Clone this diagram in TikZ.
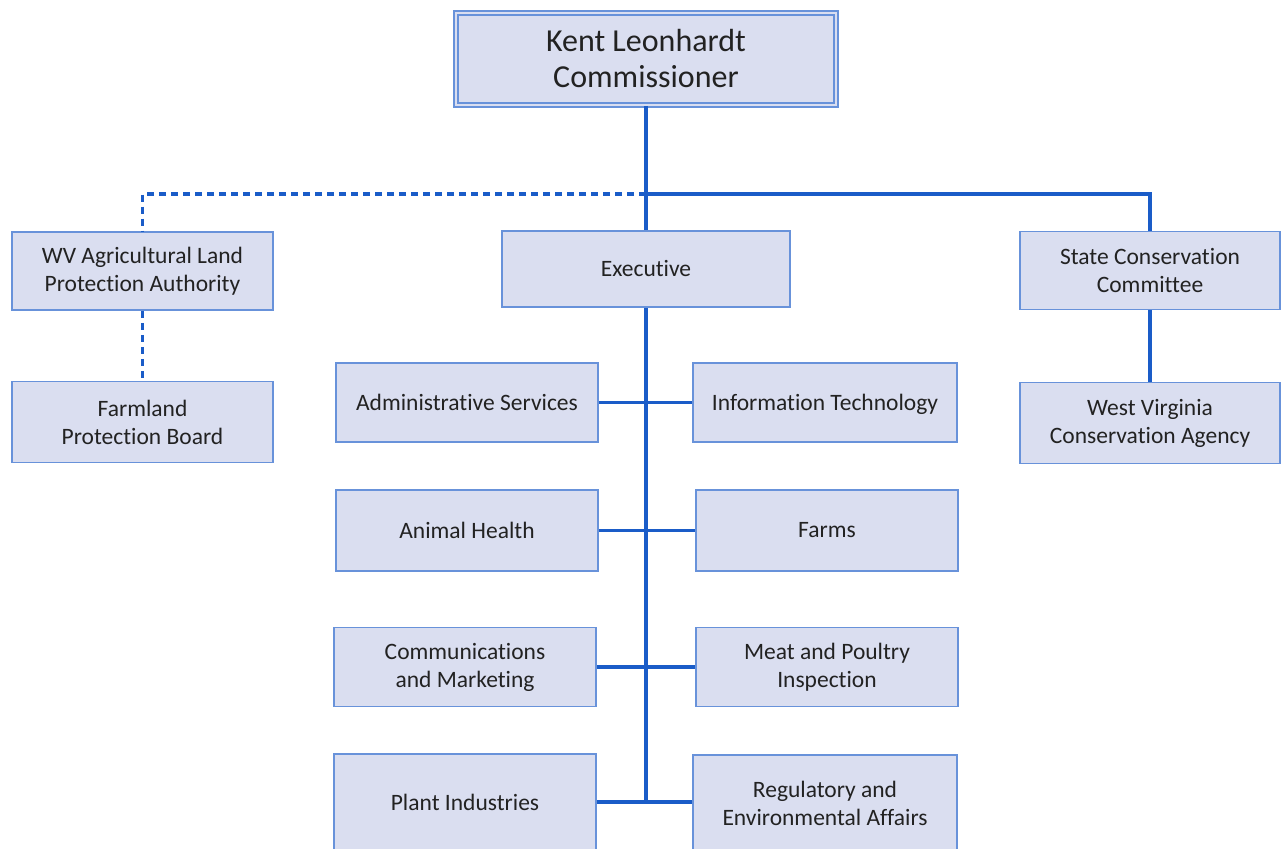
\documentclass[tikz,border=0pt]{standalone}
\usepackage{fontspec}
\setmainfont{Carlito}[Ligatures=NoCommon]
\usepackage{xcolor}
\usetikzlibrary{shadows}
\usetikzlibrary{calc}

\definecolor{boxfill}{RGB}{218,222,240}
\definecolor{boxline}{RGB}{104,146,218}
\definecolor{linkblue}{RGB}{26,92,200}
\definecolor{txt}{RGB}{34,34,34}

\begin{document}
\begin{tikzpicture}[x=1pt,y=-1pt,
    unit/.style={draw=boxline,fill=boxfill,line width=1.6pt,inner sep=0pt,
        minimum width=262pt,minimum height=79pt,align=center,text=txt,
        font=\fontsize{23.5}{28}\selectfont},
    link/.style={draw=linkblue,line width=3.2pt},
    dashlink/.style={link,dash pattern=on 7pt off 5pt}]
    \useasboundingbox (0,0) rectangle (1281,848);

    \node[unit,minimum width=380pt,minimum height=92pt,double=boxfill,double distance=2.5pt,
        font=\fontsize{32}{36}\selectfont,
        drop shadow={shadow xshift=2pt,shadow yshift=-3pt,opacity=0.25}]
        (comm) at (646,59) {Kent Leonhardt\\Commissioner};

    \node[unit,minimum width=261pt,minimum height=78pt] (agland) at (142.5,271) {WV Agricultural Land\\Protection Authority};
    \node[unit,minimum width=261pt,minimum height=81pt] (farmland) at (142.5,422) {Farmland\\Protection Board};
    \node[unit,minimum width=288pt,minimum height=76pt] (exec) at (646,269) {Executive};
    \node[unit,minimum width=260pt,minimum height=78pt] (scc) at (1150,270.5) {State Conservation\\Committee};
    \node[unit,minimum width=260pt,minimum height=81pt] (wvca) at (1150,423) {West Virginia\\Conservation Agency};

    \node[unit] (admin) at (467,402.5) {Administrative Services};
    \node[unit,minimum width=264pt,text depth=0pt] (infotech) at (825,402.5) {Information Technology};
    \node[unit,minimum height=81pt] (animal) at (467,530.5) {Animal Health};
    \node[unit,minimum height=81pt] (farms) at (827,530.5) {Farms};
    \node[unit] (commmkt) at (465,667) {Communications\\and Marketing};
    \node[unit] (meat) at (827,667) {Meat and Poultry\\Inspection};
    \node[unit,minimum height=96pt] (plant) at (465,802) {Plant Industries};
    \node[unit,minimum width=264pt,minimum height=96pt] (regul) at (825,803) {Regulatory and\\Environmental Affairs};

    \coordinate (split) at (646,194);
    \coordinate (trunkend) at (646,801);

    \draw[link] (comm.south) -- (exec.north);
    \draw[link] (split) -| (scc.north);
    \draw[dashlink] (split) -| (agland.north);
    \draw[dashlink] (agland.south) -- (farmland.north);
    \draw[link] (scc.south) -- (wvca.north);

    \draw[link] (exec.south) -- (trunkend);
    \draw[link] (admin.east) -- (infotech.west);
    \draw[link] (animal.east) -- (farms.west);
    \draw[link] (commmkt.east) -- (meat.west);
    \draw[link] (plant.east) -- (regul.west |- plant.east);
\end{tikzpicture}
\end{document}
